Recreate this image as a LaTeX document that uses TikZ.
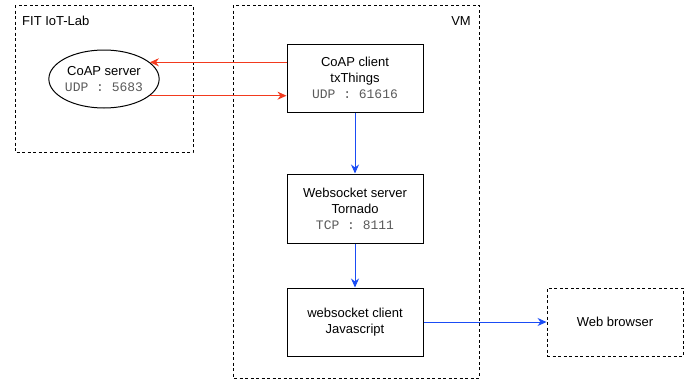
\documentclass[tikz,border=0pt]{standalone}
\usepackage{fontspec}
\setmainfont{Liberation Sans}
\setmonofont{Liberation Mono}
\usetikzlibrary{shapes.geometric,arrows.meta}
\definecolor{redarr}{HTML}{F23A1E}
\definecolor{bluearr}{HTML}{1A4CF5}
\definecolor{monogray}{HTML}{5A5A5A}
\newcommand{\port}[1]{{\ttfamily\color{monogray}#1}}
\tikzset{
  dashbox/.style={draw, line width=0.9pt, dash pattern=on 3pt off 2.5pt},
  procbox/.style={draw, line width=1pt, minimum width=136pt, minimum height=68pt, align=center, inner sep=0pt, font=\fontsize{13}{16}\selectfont},
  redline/.style={draw=redarr, line width=0.9pt, -{Stealth[length=9pt,width=8pt]}},
  blueline/.style={draw=bluearr, line width=0.9pt, -{Stealth[length=9pt,width=8pt]}},
  lbl/.style={font=\fontsize{13}{16}\selectfont, inner sep=0pt}
}
\begin{document}
\begin{tikzpicture}[x=1pt,y=-1pt]
\useasboundingbox (0,0) rectangle (697,381);
% containers
\draw[dashbox] (15,5) rectangle (193,152);
\node[lbl, anchor=west] (fitlab) at (22,21) {FIT IoT-Lab};
\draw[dashbox] (233,5) rectangle (479,378);
\node[lbl, anchor=east] (vmlab) at (471,21) {VM};
% nodes
\node[draw, ellipse, line width=1pt, minimum width=102pt, minimum height=58pt, inner sep=0pt, align=center, font=\fontsize{13}{16}\selectfont] (srv) at (104,79) {CoAP server\\\port{UDP : 5683}};
\node[procbox] (cli) at (355,78) {CoAP client\\txThings\\\port{UDP : 61616}};
\node[procbox, minimum height=69pt] (ws) at (355,208.5) {Websocket server\\Tornado\\\port{TCP : 8111}};
\node[procbox] (wc) at (355,322) {websocket client\\Javascript};
\node[procbox, dashbox, line width=0.9pt] (wb) at (615,322) {Web browser};
% connectors
\draw[redline] (cli.west |- srv.20) -- (srv.20);
\draw[redline] (srv.-20) -- (srv.-20 -| cli.west);
\draw[blueline] (cli) -- (ws);
\draw[blueline] (ws) -- (wc);
\draw[blueline] (wc) -- (wb);
\end{tikzpicture}
\end{document}
